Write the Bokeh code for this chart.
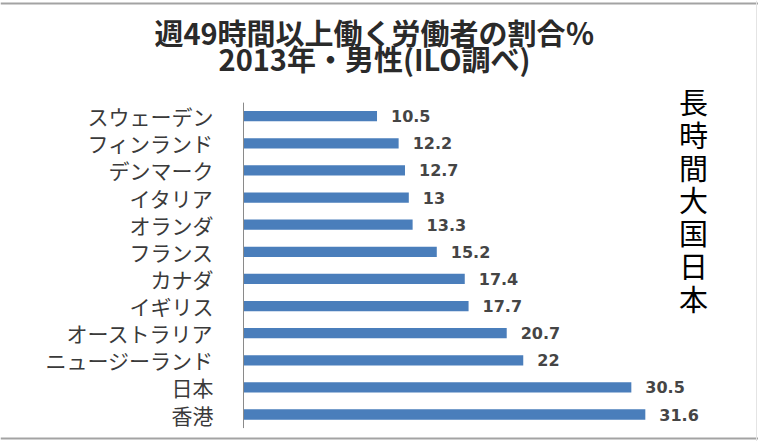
from bokeh.plotting import figure
from bokeh.models import ColumnDataSource, Range1d, Label
from bokeh.embed import file_html
from bokeh.resources import INLINE
from bokeh.core.properties import value

countries = ["スウェーデン", "フィンランド", "デンマーク", "イタリア", "オランダ", "フランス",
             "カナダ", "イギリス", "オーストラリア", "ニュージーランド", "日本", "香港"]
values = [10.5, 12.2, 12.7, 13, 13.3, 15.2, 17.4, 17.7, 20.7, 22, 30.5, 31.6]
value_labels = [f"{v:g}" for v in values]

title_line1 = "週49時間以上働く労働者の割合％"
title_line2 = "2013年・男性(ILO調べ)"
side_text = "長時間大国日本"

JP = "Noto Sans CJK JP"
W, H = 758, 441

# layout (pixels): x=0 at canvas x 243, 12.716 px per unit; rows 27.12 px apart
X0_PX, XSCALE = 243.0, 12.716
ROW_PX, TOP_ROW_PX = 27.12, 115.7
n = len(countries)
pos = [n - 1 - i for i in range(n)]          # first country at top
y_end = (n - 1) + TOP_ROW_PX / ROW_PX
y_start = y_end - H / ROW_PX

def ydata(cy):
    return y_end - cy / ROW_PX

src = ColumnDataSource(dict(pos=pos, country=countries, value=values, label=value_labels))

p = figure(width=W, height=H, output_backend="svg", toolbar_location=None,
           x_range=Range1d(-X0_PX / XSCALE, (W - X0_PX) / XSCALE),
           y_range=Range1d(y_start, y_end),
           x_axis_location=None, y_axis_location=None, min_border=0)
p.outline_line_color = None
p.xgrid.visible = False
p.ygrid.visible = False
p.background_fill_color = "white"
p.border_fill_color = "white"

# frame border lines (top / bottom)
p.hspan(y=[ydata(2.5), ydata(437.5)], line_color="#a3a3a3", line_width=2)
p.vspan(x=[(755.5 - X0_PX) / XSCALE], line_color="#e4e4e4", line_width=1)

p.hbar(y="pos", right="value", left=0, height=0.38, source=src,
       fill_color="#4a7ebb", line_color=None)

# category axis line
p.segment(x0=[0], y0=[-0.5], x1=[0], y1=[n - 0.5], line_color="#8a8a8a", line_width=1)

# category labels
p.text(x=0, y="pos", text="country", source=src, x_offset=-30,
       text_align="right", text_baseline="middle",
       text_font=value(JP), text_font_size="21px", text_color="#3a3a3a")

# value labels
p.text(x="value", y="pos", text="label", source=src, x_offset=14,
       text_baseline="middle", text_align="left",
       text_font=value("DejaVu Sans"), text_font_size="16px",
       text_font_style="bold", text_color="#454545")

def sy(cy):
    return H - cy

p.add_layout(Label(x=374, y=sy(31), x_units="screen", y_units="screen",
                   text=title_line1, text_align="center", text_baseline="middle",
                   text_font=JP, text_font_size="29px", text_font_style="bold",
                   text_color="#2a2a2a"))
p.add_layout(Label(x=374, y=sy(57), x_units="screen", y_units="screen",
                   text=title_line2, text_align="center", text_baseline="middle",
                   text_font=JP, text_font_size="29px", text_font_style="bold",
                   text_color="#2a2a2a"))

for i, ch in enumerate(side_text):
    p.add_layout(Label(x=693, y=sy(100.5 + i * 32.8), x_units="screen", y_units="screen",
                       text=ch, text_align="center", text_baseline="middle",
                       text_font=JP, text_font_size="29px", text_color="#000000"))

open("out.html", "w").write(file_html(p, INLINE))
